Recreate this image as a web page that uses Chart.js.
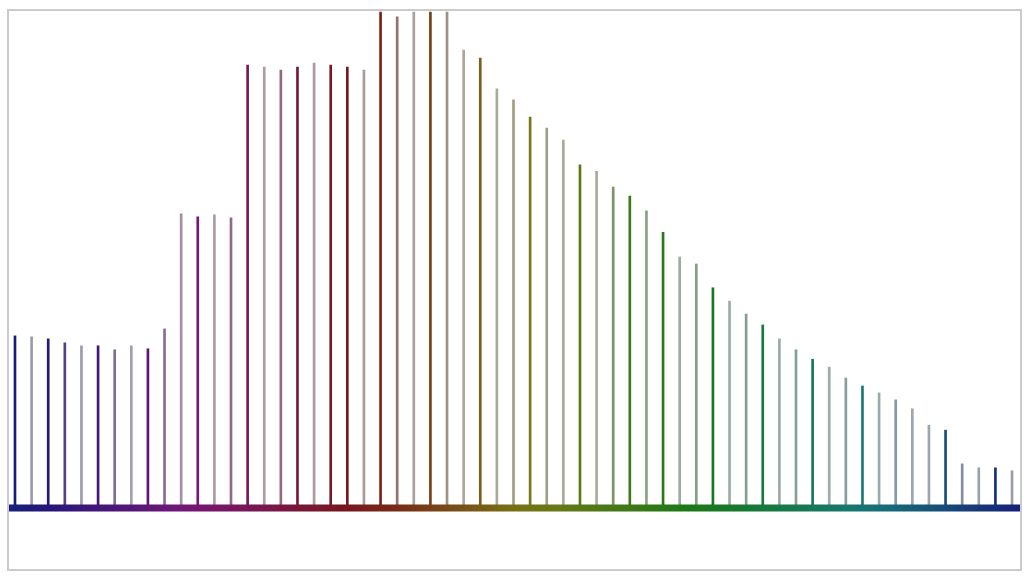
<!DOCTYPE html>
<html>
<head>
<meta charset="utf-8">
<script src="https://cdn.jsdelivr.net/npm/chart.js@4.4.1/dist/chart.umd.min.js"></script>
<style>
  html, body { margin: 0; padding: 0; background: #fff; }
  #frame {
    position: absolute; left: 7px; top: 9px; width: 1015px; height: 562px;
    border: 2px solid #cbcbcb; box-sizing: border-box;
  }
</style>
</head>
<body>
<div id="frame"><canvas id="spectrum"></canvas></div>
<script>
// --- DATA ---
const peakIndex = Array.from({length: 61}, (_, i) => i + 1);
const peakHeight = [
  34.7, 34.5, 34.1, 33.3, 32.7, 32.7, 31.9, 32.7, 32.1, 36.1,
  59.3, 58.7, 59.1, 58.5, 89.3, 88.9, 88.3, 88.9, 89.7, 89.3,
  88.9, 88.3, 100, 99.0, 100, 100, 100, 92.3, 90.7, 84.5,
  82.3, 78.8, 76.6, 74.2, 69.2, 67.9, 64.7, 62.9, 59.9, 55.6,
  50.6, 49.2, 44.4, 41.7, 39.1, 36.9, 34.1, 31.9, 30.0, 28.4,
  26.2, 24.6, 23.2, 21.8, 20.0, 16.7, 15.7, 8.9, 8.1, 8.1, 7.5
];
const xMin = 0.64, xMax = 61.48;
const yMin = -12.3, yMax = 100.2;

// per-peak opacity (dark / faded lines)
const peakAlpha = [
  1, .5, 1, .85, .5, 1, .7, .5, 1, .7,
  .55, 1, .5, .7, 1, .5, .7, 1, .5, 1,
  1, .5, 1, .7, .5, 1, .6, .5, 1, .5,
  .6, 1, .6, .5, 1, .5, .7, 1, .6, 1,
  .5, .6, 1, .5, .6, 1, .5, .6, 1, .5,
  .6, 1, .5, .6, .5, .5, 1, .6, .5, 1, .5
];

// hue sweeps once round the wheel, navy -> red -> green -> navy
function hueAt(t) { return (235 + 360 * t) % 360; }
function colourAt(t, a) {
  const sat = 25 + 43 * Math.max(0, (a - 0.5) / 0.5);
  return `hsla(${hueAt(t).toFixed(0)}, ${sat.toFixed(0)}%, 28%, ${a})`;
}
function tOf(x) { return (x - xMin) / (xMax - xMin); }

const peakColours = peakIndex.map((x, i) => colourAt(tOf(x), peakAlpha[i]));

function baselineGradient(context) {
  const chart = context.chart;
  const area = chart.chartArea;
  if (!area) return '#1a2070';
  const g = chart.ctx.createLinearGradient(area.left, 0, area.right, 0);
  for (let k = 0; k <= 24; k++) g.addColorStop(k / 24, colourAt(k / 24, 1));
  return g;
}

new Chart(document.getElementById('spectrum'), {
  type: 'bar',
  data: {
    datasets: [
      {
        type: 'line',
        data: [{x: xMin, y: 0}, {x: xMax, y: 0}],
        borderColor: baselineGradient,
        borderWidth: 7,
        pointRadius: 0,
        order: 0
      },
      {
        data: peakIndex.map((x, i) => ({x: x, y: peakHeight[i]})),
        backgroundColor: peakColours,
        barThickness: 2,
        order: 1
      }
    ]
  },
  options: {
    responsive: true, maintainAspectRatio: false, animation: false,
    layout: { padding: 0 },
    plugins: { legend: { display: false }, tooltip: { enabled: false } },
    scales: {
      x: { type: 'linear', min: xMin, max: xMax, offset: false, display: false },
      y: { min: yMin, max: yMax, display: false }
    }
  }
});
</script>
</body>
</html>
